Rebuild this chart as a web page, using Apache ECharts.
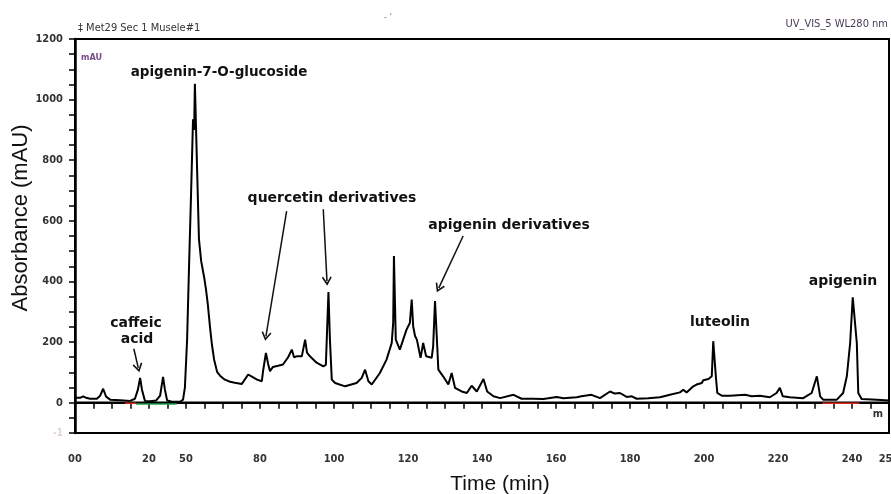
<!DOCTYPE html>
<html><head><meta charset="utf-8">
<script src="https://cdn.jsdelivr.net/npm/echarts@6/dist/echarts.min.js"></script>
<style>html,body{margin:0;padding:0;background:#fff}#c{width:891px;height:494px}</style>
</head><body><div id="c"></div><script>
// Retention time (axis units) and absorbance (mAU)
const time = [
  0,1.4,2.2,3.0,4.1,5.9,6.8,7.6,8.4,9.5,
  12.2,14.9,16.2,17.0,17.6,18.1,18.9,20.3,21.9,23.0,
  23.8,24.3,24.9,26.2,28.4,29.2,29.7,30.3,30.8,31.4,
  31.9,32.2,32.4,33.0,33.5,34.1,34.9,35.4,35.9,36.5,
  37.0,37.6,38.4,39.2,40.5,41.9,43.2,45.1,46.8,47.8,
  49.2,50.5,50.8,51.6,52.2,52.7,53.5,54.9,56.2,57.6,
  58.6,59.2,59.9,61.3,62.2,62.7,63.5,65.3,67.1,67.8,
  68.5,68.9,69.4,70.3,73.0,76.1,77.5,78.4,79.3,80.2,
  82.4,84.2,85.6,86.0,86.2,86.7,87.8,88.7,89.6,90.5,
  91.0,91.4,91.9,92.4,92.8,93.4,94.1,94.9,96.4,96.8,
  97.3,97.9,98.2,99.5,100.9,101.8,102.7,104.5,105.9,107.2,
  108.6,110.4,111.4,113.1,114.9,118.5,120.7,123.8,126.6,130.2,
  132.0,135.6,136.9,139.6,141.9,144.6,145.9,147.3,149.1,150.5,
  151.8,154.9,158.1,160.8,163.5,164.4,165.3,167.1,168.0,169.4,
  169.8,171.2,172.1,172.5,173.2,173.6,174.8,177.0,181.1,182.9,
  185.1,187.8,189.6,190.5,191.3,193.2,196.8,199.1,200.5,201.4,
  202.2,205.9,207.6,208.6,209.5,210.2,211.3,211.7,212.6,216.7,
  220
];
const absorbance = [
  16,16,21,16,13,13,23,46,20,10,
  8,6,13,43,82,43,6,5,7,23,
  85,43,7,3,3,10,50,208,440,703,
  935,900,1052,770,540,467,414,374,324,248,
  192,142,102,89,76,69,66,62,93,86,
  76,71,102,164,128,104,118,122,126,150,
  175,150,153,153,208,165,153,132,120,125,
  365,208,76,65,54,65,82,109,71,60,
  98,142,197,264,484,208,175,208,241,263,
  340,252,220,208,208,148,197,153,148,186,
  335,186,109,87,60,98,49,37,32,56,
  37,78,37,21,15,26,13,13,12,19,
  15,18,21,26,15,37,30,32,19,21,
  13,15,18,26,34,43,34,54,60,65,
  74,78,87,203,87,32,23,23,26,21,
  23,18,32,49,21,18,15,32,87,21,
  10,10,32,87,197,348,197,32,12,10,
  7
];
// x tick labels as printed on the original instrument plot
const xLabelValues = [0,20,30,50,70,90,110,130,150,170,190,210,220];
const xLabelTexts  = ['00','20','50','80','100','120','140','160','180','200','220','240','250'];
const yLabelValues = [0,200,400,600,800,1000,1200];
// integration baselines
const redBaseline = [[13.5,16.5],[202,212]];
const greenBaseline = [[16.5,27.5]];
// annotation arrows (from label to peak)
const arrowFrom = [[15.9,178],[57.2,632],[67.1,638],[104.9,550]];
const arrowTo   = [[17.1,115],[51.6,219],[68.1,401],[98.3,378]];
const peakNames = ['apigenin-7-O-glucoside','caffeic','acid','quercetin derivatives','apigenin derivatives','luteolin','apigenin'];

const chart = echarts.init(document.getElementById('c'), null, {renderer:'canvas'});
const trace = time.map((t,i)=>[t,absorbance[i]]);
const segs = (arr, y) => { const out=[]; arr.forEach(s=>{out.push([s[0],y],[s[1],y],null);}); return out; };
const narrow = "'Liberation Sans Narrow','DejaVu Sans Condensed','Arial Narrow',sans-serif";
const chevron = 'path://M5,0 L10,9 L8.7,10 L5,3.4 L1.3,10 L0,9 Z';

const annFont = {fontFamily:"'DejaVu Sans',sans-serif", fontWeight:'bold', fill:'#111'};
const annPos = [[219,72,13.5],[136,323,14],[137,339,14],[332,198,14],[509,225,14],[720,322,14],[843,281,14]];

chart.setOption({
  animation:false,
  backgroundColor:'#fff',
  grid:{left:75,right:2,top:39,bottom:61,show:true,borderColor:'#000',borderWidth:2,
    containLabel:false,outerBoundsMode:'none'},
  xAxis:{type:'value',min:0,max:220,interval:5,offset:6,
    axisLine:{show:true,lineStyle:{color:'#000',width:2}},
    axisTick:{show:true,length:6,inside:false,lineStyle:{color:'#000',width:1.5}},
    axisLabel:{margin:15,fontFamily:narrow,fontSize:11,fontWeight:'bold',color:'#333',
      formatter:v=>{const k=xLabelValues.indexOf(v);return k>=0?xLabelTexts[k]:'';}},
    splitLine:{show:false}},
  yAxis:{type:'value',min:-100,max:1200,interval:50,
    axisLine:{show:true,lineStyle:{color:'#000',width:2.5}},
    axisTick:{show:true,length:6,inside:false,lineStyle:{color:'#000',width:1.5}},
    axisLabel:{margin:12,fontFamily:narrow,fontSize:11,fontWeight:'bold',color:'#333',
      formatter:v=> v===-100?'{f|-1}':(yLabelValues.indexOf(v)>=0?String(v):''),
      rich:{f:{color:'#e0d0e0',fontSize:10,fontFamily:narrow}}},
    splitLine:{show:false}},
  series:[
    {type:'line',data:[[0,0],[220,0]],showSymbol:false,lineStyle:{color:'#000',width:2.5},z:2,silent:true},
    {type:'line',data:segs(redBaseline,-2),showSymbol:false,connectNulls:false,lineStyle:{color:'#d62a1a',width:1.5},z:3,silent:true},
    {type:'line',data:segs(greenBaseline,-4),showSymbol:false,connectNulls:false,lineStyle:{color:'#1aa04a',width:1.5},z:3,silent:true},
    {type:'line',data:trace,showSymbol:false,sampling:null,lineStyle:{color:'#000',width:2},z:5,
      markLine:{silent:true,symbol:['none',chevron],symbolSize:[10,9],
        lineStyle:{color:'#111',width:1.5,type:'solid'},label:{show:false},
        data:arrowFrom.map((p,i)=>[{coord:p},{coord:arrowTo[i]}])}}
  ],
  graphic:[
    ...peakNames.map((n,i)=>({type:'text',x:annPos[i][0],y:annPos[i][1],
      style:Object.assign({text:n,fontSize:annPos[i][2],textAlign:'center',textVerticalAlign:'middle'},annFont)})),
    {type:'text',x:21,y:218,rotation:Math.PI/2,style:{text:'Absorbance (mAU)',fontFamily:"'Liberation Sans',Arial,sans-serif",fontSize:22,fill:'#111',textAlign:'center',textVerticalAlign:'middle'}},
    {type:'text',x:500,y:484,style:{text:'Time (min)',fontFamily:"'Liberation Sans',Arial,sans-serif",fontSize:21,fill:'#111',textAlign:'center',textVerticalAlign:'middle'}},
    {type:'text',x:78,y:28,style:{text:'‡ Met29 Sec 1 Musele#1',fontFamily:narrow,fontSize:11,fill:'#333',textVerticalAlign:'middle'}},
    {type:'text',x:888,y:24,style:{text:'UV_VIS_5 WL280 nm',fontFamily:narrow,fontSize:11,fill:'#4a3a5a',textAlign:'right',textVerticalAlign:'middle'}},
    {type:'text',x:81,y:58,style:{text:'mAU',fontFamily:narrow,fontSize:9,fontWeight:'bold',fill:'#7a4a8a',textVerticalAlign:'middle'}},
    {type:'text',x:878,y:414,style:{text:'m',fontFamily:narrow,fontSize:11,fontWeight:'bold',fill:'#333',textAlign:'center',textVerticalAlign:'middle'}},
    {type:'text',x:388,y:18,style:{text:'- \u2019',fontFamily:narrow,fontSize:9,fill:'#777',textAlign:'center',textVerticalAlign:'middle'}}
  ]
});
</script></body></html>
